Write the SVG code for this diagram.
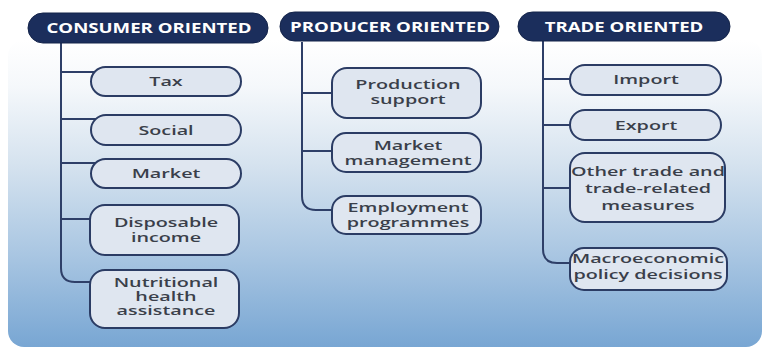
<svg xmlns="http://www.w3.org/2000/svg" width="767" height="352" viewBox="0 0 767 352">
<defs>
<linearGradient id="bg" x1="0" y1="0" x2="0" y2="1">
<stop offset="0" stop-color="#ffffff"/>
<stop offset="0.15" stop-color="#f5f8fb"/>
<stop offset="0.4" stop-color="#d6e3ef"/>
<stop offset="0.7" stop-color="#a9c6e2"/>
<stop offset="1" stop-color="#78a6d3"/>
</linearGradient>
<style>
.hdr{fill:#1b2e5c;stroke:#14244a;stroke-width:1}
.ht{fill:#ffffff;font-family:"Open Sans","DejaVu Sans",sans-serif;font-weight:700;font-size:13.5px;text-anchor:middle}
.pill{fill:#dfe6f0;stroke:#2b3c64;stroke-width:2}
.pt{fill:#3a3f4a;font-family:"Open Sans","DejaVu Sans",sans-serif;font-weight:600;font-size:13px;text-anchor:middle}
.ln{fill:none;stroke:#2e3f68;stroke-width:2}
</style>
</defs>
<rect x="8" y="40" width="754" height="307" rx="16" fill="url(#bg)"/>
<g id="connectors">
<path class="ln" d="M61,43 V268 Q61,282 75,282 H95"/>
<path class="ln" d="M61,72 H98"/>
<path class="ln" d="M61,119 H98"/>
<path class="ln" d="M61,163 H98"/>
<path class="ln" d="M61,219 H95"/>
<path class="ln" d="M302,42 V196 Q302,210 316,210 H335"/>
<path class="ln" d="M302,93 H335"/>
<path class="ln" d="M302,151 H335"/>
<path class="ln" d="M543,40 V249 Q543,263 557,263 H573"/>
<path class="ln" d="M543,79 H576"/>
<path class="ln" d="M543,125 H576"/>
<path class="ln" d="M543,188 H573"/>
</g>
<g id="h-consumer"><rect class="hdr" x="28" y="13" width="240" height="30" rx="15"/><text class="ht" transform="translate(149,0) scale(1.38,1)" x="0" y="33">CONSUMER ORIENTED</text></g>
<g id="h-producer"><rect class="hdr" x="280" y="12" width="219" height="29" rx="14.5"/><text class="ht" transform="translate(390,0) scale(1.38,1)" x="0" y="32">PRODUCER ORIENTED</text></g>
<g id="h-trade"><rect class="hdr" x="518" y="12" width="212" height="29" rx="14.5"/><text class="ht" transform="translate(624,0) scale(1.38,1)" x="0" y="32">TRADE ORIENTED</text></g>
<g id="n-tax"><rect class="pill" x="91" y="67" width="150" height="29" rx="14.5"/><text class="pt" transform="translate(166,0) scale(1.52,1)" x="0" y="86">Tax</text></g>
<g id="n-social"><rect class="pill" x="91" y="115" width="150" height="30" rx="15"/><text class="pt" transform="translate(166,0) scale(1.52,1)" x="0" y="135">Social</text></g>
<g id="n-market"><rect class="pill" x="91" y="159" width="150" height="29" rx="14.5"/><text class="pt" transform="translate(166,0) scale(1.52,1)" x="0" y="178">Market</text></g>
<g id="n-disposable"><rect class="pill" x="90" y="205" width="149" height="50" rx="15"/><text class="pt" transform="translate(166,0) scale(1.52,1)" x="0" y="227">Disposable</text><text class="pt" transform="translate(166,0) scale(1.52,1)" x="0" y="242">income</text></g>
<g id="n-nutritional"><rect class="pill" x="90" y="270" width="149" height="58" rx="15"/><text class="pt" transform="translate(166,0) scale(1.52,1)" x="0" y="287">Nutritional</text><text class="pt" transform="translate(166,0) scale(1.52,1)" x="0" y="301">health</text><text class="pt" transform="translate(166,0) scale(1.52,1)" x="0" y="315">assistance</text></g>
<g id="n-production"><rect class="pill" x="332" y="68" width="149" height="50" rx="15"/><text class="pt" transform="translate(408,0) scale(1.52,1)" x="0" y="89">Production</text><text class="pt" transform="translate(408,0) scale(1.52,1)" x="0" y="104">support</text></g>
<g id="n-marketmgmt"><rect class="pill" x="332" y="133" width="149" height="39" rx="14"/><text class="pt" transform="translate(408,0) scale(1.52,1)" x="0" y="150">Market</text><text class="pt" transform="translate(408,0) scale(1.52,1)" x="0" y="165">management</text></g>
<g id="n-employment"><rect class="pill" x="332" y="196" width="149" height="38" rx="14"/><text class="pt" transform="translate(408,0) scale(1.52,1)" x="0" y="212">Employment</text><text class="pt" transform="translate(408,0) scale(1.52,1)" x="0" y="227">programmes</text></g>
<g id="n-import"><rect class="pill" x="570" y="65" width="151" height="30" rx="15"/><text class="pt" transform="translate(646,0) scale(1.52,1)" x="0" y="84">Import</text></g>
<g id="n-export"><rect class="pill" x="570" y="110" width="151" height="30" rx="15"/><text class="pt" transform="translate(646,0) scale(1.52,1)" x="0" y="130">Export</text></g>
<g id="n-other"><rect class="pill" x="570" y="153" width="155" height="69" rx="15"/><text class="pt" transform="translate(648,0) scale(1.52,1)" x="0" y="176">Other trade and</text><text class="pt" transform="translate(648,0) scale(1.52,1)" x="0" y="193">trade-related</text><text class="pt" transform="translate(648,0) scale(1.52,1)" x="0" y="210">measures</text></g>
<g id="n-macro"><rect class="pill" x="570" y="248" width="157" height="42" rx="14"/><text class="pt" transform="translate(648,0) scale(1.52,1)" x="0" y="263">Macroeconomic</text><text class="pt" transform="translate(648,0) scale(1.52,1)" x="0" y="279">policy decisions</text></g>
</svg>
